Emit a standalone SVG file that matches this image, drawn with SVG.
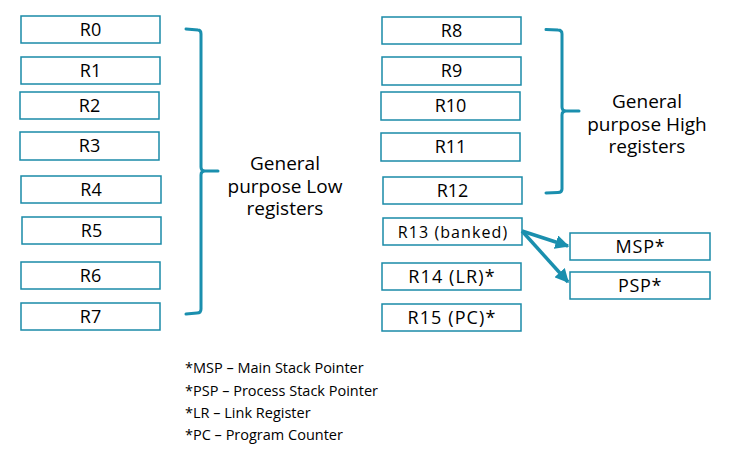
<svg xmlns="http://www.w3.org/2000/svg" width="733" height="461" viewBox="0 0 733 461">
<style>
.box{fill:#fff;stroke:#1a8aa8;stroke-width:1.5}
.lbl{font-family:"Open Sans","Liberation Sans",sans-serif;font-size:18px;fill:#000;text-anchor:middle}
.sp{letter-spacing:1.1px}
.sm{font-size:16px;letter-spacing:1.1px}
.brace{fill:none;stroke:#1a8fae;stroke-width:3;stroke-linecap:round;stroke-linejoin:round}
.big{font-family:"Open Sans","Liberation Sans",sans-serif;font-size:19px;fill:#000;text-anchor:middle}
.note{font-family:"Open Sans","Liberation Sans",sans-serif;font-size:14.5px;fill:#000}
.arr{stroke:#1a8fae;stroke-width:3.5;fill:none}
</style>
<defs>
<marker id="ah" viewBox="0 0 10 10" refX="9" refY="5" markerWidth="4" markerHeight="4" orient="auto" markerUnits="strokeWidth">
<path d="M0,0 L10,5 L0,10 z" fill="#1a8fae"/>
</marker>
</defs>
<g id="R0"><rect class="box" x="21" y="16" width="139" height="27"/><text class="lbl" x="90.5" y="36">R0</text></g>
<g id="R1"><rect class="box" x="21" y="57" width="139" height="27"/><text class="lbl" x="90.5" y="77">R1</text></g>
<g id="R2"><rect class="box" x="20" y="92" width="139" height="27"/><text class="lbl" x="89.5" y="112">R2</text></g>
<g id="R3"><rect class="box" x="20" y="132" width="139" height="28"/><text class="lbl" x="89.5" y="152">R3</text></g>
<g id="R4"><rect class="box" x="21" y="176" width="140" height="27"/><text class="lbl" x="91" y="196">R4</text></g>
<g id="R5"><rect class="box" x="22" y="217" width="139" height="27"/><text class="lbl" x="91.5" y="237">R5</text></g>
<g id="R6"><rect class="box" x="21" y="262" width="139" height="27"/><text class="lbl" x="90.5" y="282">R6</text></g>
<g id="R7"><rect class="box" x="21" y="303" width="139" height="27"/><text class="lbl" x="90.5" y="323">R7</text></g>
<g id="R8"><rect class="box" x="382" y="17" width="139" height="27"/><text class="lbl" x="451.5" y="37">R8</text></g>
<g id="R9"><rect class="box" x="382" y="57" width="139" height="28"/><text class="lbl" x="451.5" y="77">R9</text></g>
<g id="R10"><rect class="box" x="381" y="92" width="139" height="28"/><text class="lbl" x="450.5" y="112">R10</text></g>
<g id="R11"><rect class="box" x="381" y="133" width="139" height="28"/><text class="lbl" x="450.5" y="153">R11</text></g>
<g id="R12"><rect class="box" x="383" y="177" width="139" height="27"/><text class="lbl" x="452.5" y="197">R12</text></g>
<g id="R13"><rect class="box" x="383" y="218" width="139" height="27"/><text class="lbl sm" x="453" y="237.5">R13 (banked)</text></g>
<g id="R14"><rect class="box" x="382" y="263" width="139" height="27"/><text class="lbl sp" x="452" y="283">R14 (LR)*</text></g>
<g id="R15"><rect class="box" x="382" y="304" width="139" height="27"/><text class="lbl sp" x="452" y="324">R15 (PC)*</text></g>
<g id="MSP"><rect class="box" x="570" y="233" width="140" height="27"/><text class="lbl" x="640.5" y="253" style="letter-spacing:0.8px">MSP*</text></g>
<g id="PSP"><rect class="box" x="570" y="272" width="140" height="27"/><text class="lbl" x="640" y="292" style="letter-spacing:0.6px">PSP*</text></g>
<g id="low-brace">
<path class="brace" d="M186,29 L198,30 Q201,30 201,34 L201,167 Q201,171 205,171 L218,171 M205,171 Q201,171 201,175 L201,309 Q201,313 197,313 L186,314"/>
<text class="big" x="285" y="170">General</text>
<text class="big" x="285" y="193">purpose Low</text>
<text class="big" x="285" y="215">registers</text>
</g>
<g id="high-brace">
<path class="brace" d="M546,29.5 L558,30 Q562,30 562,34 L562,107 Q562,111 566,111 L579,111 M566,111 Q562,111 562,115 L562,189 Q562,192.5 558,192.5 L546,193"/>
<text class="big" x="647" y="108">General</text>
<text class="big" x="647" y="131">purpose High</text>
<text class="big" x="647" y="153">registers</text>
</g>
<g id="connectors">
<line class="arr" x1="522" y1="231" x2="568" y2="246" marker-end="url(#ah)"/>
<line class="arr" x1="522" y1="231" x2="568" y2="282" marker-end="url(#ah)"/>
</g>
<g id="notes">
<text class="note" x="185" y="373">*MSP – Main Stack Pointer</text>
<text class="note" x="185" y="396">*PSP – Process Stack Pointer</text>
<text class="note" x="185" y="418">*LR – Link Register</text>
<text class="note" x="185" y="440">*PC – Program Counter</text>
</g>
</svg>
